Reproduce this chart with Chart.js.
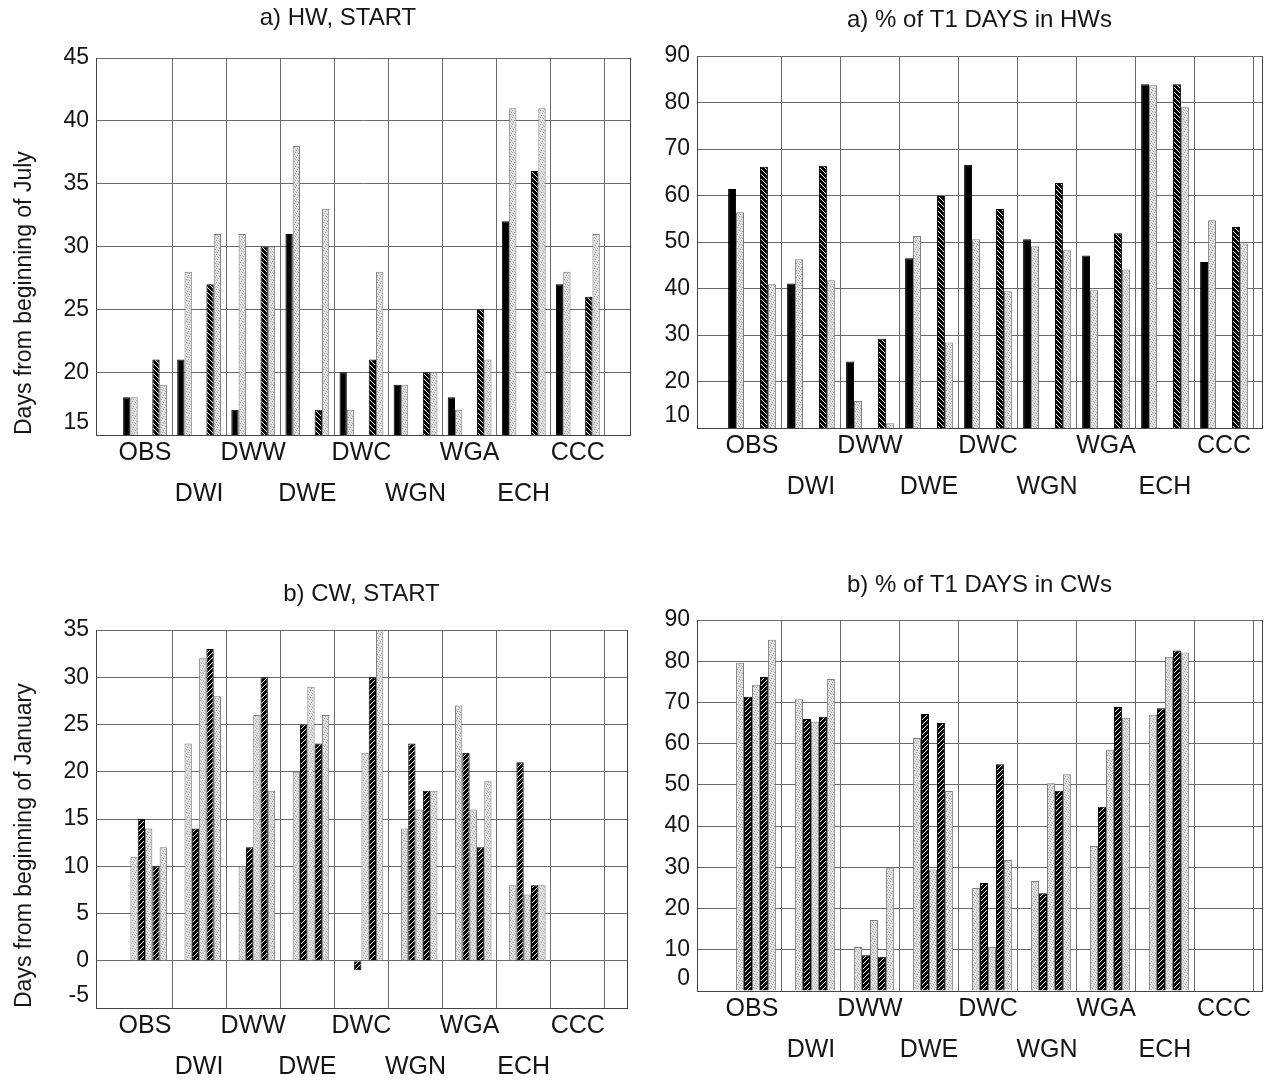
<!DOCTYPE html>
<html>
<head>
<meta charset="utf-8">
<script src="https://cdn.jsdelivr.net/npm/chart.js@4.4.1/dist/chart.umd.min.js"></script>
<style>
  html, body { margin: 0; padding: 0; background: #fff; overflow: hidden; width: 1266px; height: 1081px; }
  canvas { position: absolute; }
</style>
</head>
<body>
<canvas id="hwStart" width="676" height="520" style="left:0;top:0"></canvas>
<canvas id="hwPct" width="685" height="520" style="left:637px;top:0"></canvas>
<canvas id="cwStart" width="723" height="541" style="left:0;top:540px"></canvas>
<canvas id="cwPct" width="685" height="541" style="left:637px;top:540px"></canvas>
<script>
// categories (models), shared by all four panels
const categories = ["OBS", "DWI", "DWW", "DWE", "DWC", "WGN", "WGA", "ECH", "CCC"];
const noData = categories.map(() => null);

// a) HW, START  (days from beginning of July)
const hwStartBlack = [18, 21, 17, 31, 20, 19, 18, 32, 27];
const hwStartDot1 = [18, 28, 31, 38, 17, 19, 17, 41, 28];
const hwStartHatch = [21, 27, 30, 17, 21, 20, 25, 36, 26];
const hwStartDot2 = [19, 31, 30, 33, 28, 20, 21, 41, 31];

// a) % of T1 days in HWs
const hwPctBlack = [61.4, 41.1, 24.3, 46.5, 66.6, 50.6, 47.1, 83.9, 45.7];
const hwPctDot1 = [56.4, 46.3, 15.8, 51.3, 50.6, 49.1, 39.6, 83.7, 54.7];
const hwPctHatch = [66.2, 66.4, 29.2, 59.9, 57.1, 62.7, 51.9, 83.9, 53.2];
const hwPctDot2 = [40.9, 41.8, 11, 28.4, 39.4, 48.2, 44.1, 79, 49.7];

// b) CW, START  (days from beginning of January)
const cwStartDot1 = [11, 23, 10, 20, null, 14, 27, 8, null];
const cwStartHatch1 = [15, 14, 12, 25, -1, 23, 22, 21, null];
const cwStartDot2 = [14, 32, 26, 29, 22, 16, 16, 7, null];
const cwStartHatch2 = [10, 33, 30, 23, 30, 18, 12, 8, null];
const cwStartDot3 = [12, 28, 18, 26, 35, 18, 19, 8, null];

// b) % of T1 days in CWs
const cwPctDot1 = [79.6, 70.8, 10.7, 61.4, 25, 26.7, 35.2, 67, null];
const cwPctHatch1 = [71.4, 66, 8.7, 67.2, 26.2, 23.7, 44.7, 68.6, null];
const cwPctDot2 = [74.3, 65.3, 17.2, 29.5, 10.7, 50.4, 58.5, 81.1, null];
const cwPctHatch2 = [76.2, 66.5, 8.3, 65, 55, 48.6, 68.9, 82.6, null];
const cwPctDot3 = [85.2, 75.7, 29.8, 48.5, 31.8, 52.6, 66.3, 82.1, null];

const family = "'Liberation Sans', Arial, sans-serif";
const ink = "#151515";
const gridColor = "#6a6a6a";
const axisColor = "#444";

// fill patterns
function makePattern(size, draw) {
    const c = document.createElement("canvas");
    c.width = c.height = size;
    const g = c.getContext("2d");
    draw(g, size);
    return g.createPattern(c, "repeat");
}
// light grey stipple, dots scattered over a 7px tile
const dotFill = makePattern(7, (g, n) => {
    g.fillStyle = "#e3e3e3";
    g.fillRect(0, 0, n, n);
    g.fillStyle = "#9c9c9c";
    [[0, 0], [3, 1], [6, 2], [2, 3], [5, 4], [1, 5], [4, 6]].forEach(([x, y]) => g.fillRect(x, y, 1, 1));
    g.fillStyle = "#bdbdbd";
    [[5, 0], [1, 2], [4, 3], [0, 4], [3, 5], [6, 6]].forEach(([x, y]) => g.fillRect(x, y, 1, 1));
});
const hatchBack = makePattern(5, (g, n) => {
    g.fillStyle = "#000";
    g.fillRect(0, 0, n, n);
    g.fillStyle = "#fff";
    for (let i = 0; i < n; i++) g.fillRect(i, i, 1, 1);
});
const hatchFwd = makePattern(5, (g, n) => {
    g.fillStyle = "#000";
    g.fillRect(0, 0, n, n);
    g.fillStyle = "#fff";
    for (let i = 0; i < n; i++) g.fillRect(i, n - 1 - i, 1, 1);
});

function bar(data, kind) {
    const styles = {
        solid: ["#000", "#000"],
        dot: [dotFill, "#7c7c7c"],
        back: [hatchBack, "#000"],
        fwd: [hatchFwd, "#000"],
    };
    return {
        data: data,
        yAxisID: "y",
        backgroundColor: styles[kind][0],
        borderColor: styles[kind][1],
        borderWidth: 1,
    };
}

function makeChart(id, p) {
    new Chart(document.getElementById(id), {
        type: "bar",
        data: { labels: categories, datasets: p.datasets },
        options: {
            responsive: false,
            animation: false,
            devicePixelRatio: 1,
            layout: { padding: 0 },
            datasets: { bar: { categoryPercentage: 0.81, barPercentage: 1 } },
            plugins: {
                legend: { display: false },
                tooltip: { enabled: false },
                title: {
                    display: true,
                    text: p.title,
                    color: ink,
                    font: { family: family, size: 24, weight: "normal", lineHeight: 1.2 },
                    padding: { top: p.titlePad[0], bottom: p.titlePad[1] },
                },
            },
            scales: {
                x: {
                    offset: true,
                    grid: {
                        offset: true,
                        drawTicks: false,
                        color: (c) => (c.index === 0 || c.index === categories.length) ? "rgba(0,0,0,0)" : gridColor,
                    },
                    border: { display: true, color: axisColor },
                    ticks: {
                        autoSkip: false,
                        maxRotation: 0,
                        padding: -2.5,
                        color: ink,
                        font: { family: family, size: 25, lineHeight: "41px" },
                        callback: (v, i) => (i % 2 ? ["", categories[i]] : [categories[i], ""]),
                    },
                    afterBuildTicks: (s) => {
                        s._startValue = p.xStart;
                        s._valueRange = p.xRange;
                    },
                    afterFit: (s) => { s.height = p.xHeight; },
                },
                y: {
                    min: p.min,
                    max: p.max,
                    ticks: {
                        stepSize: p.step,
                        autoSkip: false,
                        padding: 7,
                        color: ink,
                        font: { family: family, size: 23, lineHeight: 1.1 },
                        callback: (v) => (v === p.min ? [String(v), ""] : String(v)),
                    },
                    grid: { drawTicks: false, color: gridColor },
                    border: { display: true, color: axisColor },
                    title: {
                        display: !!p.yTitle,
                        text: p.yTitle || "",
                        align: "start",
                        color: ink,
                        font: { family: family, size: 23, lineHeight: 1.2 },
                        padding: { top: 11, bottom: 0 },
                    },
                    afterFit: (s) => { s.width = p.yWidth; },
                },
                y2: {
                    position: "right",
                    min: p.min,
                    max: p.max,
                    ticks: { display: false },
                    grid: { display: false, drawTicks: false },
                    border: { display: true, color: axisColor },
                    afterFit: (s) => { s.width = p.y2Width; },
                },
            },
        },
    });
}

makeChart("hwStart", {
    title: "a) HW, START",
    yTitle: "Days from beginning of July",
    min: 15, max: 45, step: 5,
    titlePad: [3.6, 25.6], xHeight: 85,
    yWidth: 96, y2Width: 46,
    xStart: -0.906, xRange: 9.87,
    datasets: [
        bar(hwStartBlack, "solid"), bar(hwStartDot1, "dot"),
        bar(noData, "dot"), bar(noData, "dot"),
        bar(hwStartHatch, "back"), bar(hwStartDot2, "dot"),
    ],
});

makeChart("hwPct", {
    title: "a) % of T1 DAYS in HWs",
    min: 10, max: 90, step: 10,
    titlePad: [5.6, 21.6], xHeight: 92,
    yWidth: 60, y2Width: 60,
    xStart: -0.932, xRange: 9.576,
    datasets: [
        bar(hwPctBlack, "solid"), bar(hwPctDot1, "dot"),
        bar(noData, "dot"), bar(noData, "dot"),
        bar(hwPctHatch, "back"), bar(hwPctDot2, "dot"),
    ],
});

makeChart("cwStart", {
    title: "b) CW, START",
    yTitle: "Days from beginning of January",
    min: -5, max: 35, step: 5,
    titlePad: [39.6, 21.6], xHeight: 73,
    yWidth: 96, y2Width: 96,
    xStart: -0.906, xRange: 9.815,
    datasets: [
        bar(noData, "solid"), bar(cwStartDot1, "dot"),
        bar(cwStartHatch1, "fwd"), bar(cwStartDot2, "dot"),
        bar(cwStartHatch2, "fwd"), bar(cwStartDot3, "dot"),
    ],
});

makeChart("cwPct", {
    title: "b) % of T1 DAYS in CWs",
    min: 0, max: 90, step: 10,
    titlePad: [30.6, 20.6], xHeight: 90,
    yWidth: 60, y2Width: 60,
    xStart: -0.932, xRange: 9.576,
    datasets: [
        bar(noData, "solid"), bar(cwPctDot1, "dot"),
        bar(cwPctHatch1, "fwd"), bar(cwPctDot2, "dot"),
        bar(cwPctHatch2, "fwd"), bar(cwPctDot3, "dot"),
    ],
});
</script>
</body>
</html>
